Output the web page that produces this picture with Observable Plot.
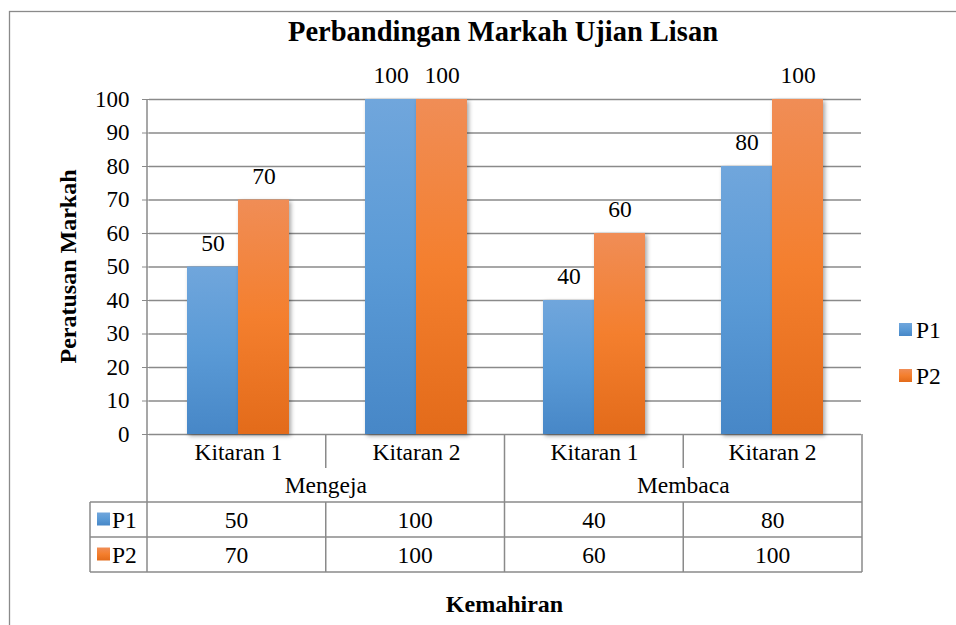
<!DOCTYPE html>
<html>
<head>
<meta charset="utf-8">
<script src="https://cdn.jsdelivr.net/npm/d3@7"></script>
<script src="https://cdn.jsdelivr.net/npm/@observablehq/plot@0.6"></script>
<style>
  html, body { margin: 0; padding: 0; background: #fff; }
  #wrap { position: relative; width: 956px; height: 625px; overflow: hidden; background: #fff; }
  #wrap svg.main { position: absolute; left: 0; top: 0; }
  #wrap svg text { font-family: "Liberation Serif", "Times New Roman", serif !important; }
  g[aria-label="bar"] rect { filter: drop-shadow(2px 2px 2px rgba(0,0,0,0.35)); }
  [aria-label^="y-axis"] line, [aria-label^="y-axis"] path { stroke: #8a8a8a; }
</style>
</head>
<body>
<svg width="0" height="0" style="position:absolute">
  <defs>
    <linearGradient id="gP1" x1="0" y1="0" x2="0" y2="1">
      <stop offset="0%" stop-color="#70a6dc"/>
      <stop offset="50%" stop-color="#5a9ad6"/>
      <stop offset="100%" stop-color="#4787c7"/>
    </linearGradient>
    <linearGradient id="gP2" x1="0" y1="0" x2="0" y2="1">
      <stop offset="0%" stop-color="#f08d56"/>
      <stop offset="50%" stop-color="#f47f2e"/>
      <stop offset="100%" stop-color="#e36b1a"/>
    </linearGradient>
  </defs>
</svg>
<div id="wrap"></div>
<script>
// ---- data ----
const title = "Perbandingan Markah Ujian Lisan";
const yTitle = "Peratusan Markah";
const xTitle = "Kemahiran";
const groups = ["Mengeja", "Membaca"];
const rounds = ["Kitaran 1", "Kitaran 2"];
const series = ["P1", "P2"];
const p1Values = [50, 100, 40, 80];
const p2Values = [70, 100, 60, 100];
const yTicks = [0, 10, 20, 30, 40, 50, 60, 70, 80, 90, 100];

// ---- derived table ----
const SEP = " · ";
const cats = groups.flatMap(g => rounds.map(r => g + SEP + r));
const valuesBySeries = {P1: p1Values, P2: p2Values};
const data = [];
cats.forEach((c, i) => {
  series.forEach(s => data.push({cat: c, series: s, value: valuesBySeries[s][i]}));
});

const FONT = '"Liberation Serif", "Times New Roman", serif';
const GRID = "#8a8a8a";
const W = 956, H = 625;
const FS = 23.5;

const chart = Plot.plot({
  width: W, height: H,
  marginLeft: 147, marginRight: 94, marginTop: 99, marginBottom: 191,
  style: {fontFamily: FONT, fontSize: "23px", color: "#000", background: "transparent", overflow: "visible"},
  facet: {data, x: "cat"},
  fx: {domain: cats, padding: 0, axis: "bottom", tickSize: 0, tickPadding: 9, label: null,
       tickFormat: d => d.split(SEP)[1]},
  x: {domain: series, paddingInner: 0, paddingOuter: 0.735, axis: null},
  y: {domain: [0, 100], ticks: yTicks, tickSize: 7, tickPadding: 13, label: null},
  color: {domain: series, range: ["url(#gP1)", "url(#gP2)"]},
  marks: [
    Plot.ruleY(yTicks, {stroke: GRID, strokeWidth: 1.3}),
    Plot.barY(data, {x: "series", y: "value", fill: "series"}),
    Plot.text(data, {x: "series", y: "value", text: d => String(d.value), dy: -24, fontSize: FS, fill: "#000"})
  ]
});
chart.classList.add("main");
document.getElementById("wrap").append(chart);
d3.select(chart).selectAll('[aria-label^="fx-axis"] text').attr("font-size", FS).style("font-size", FS + "px");

// ---- scales from the plot ----
const fxInfo = chart.scale("fx");
const band = d3.scaleBand(fxInfo.domain, fxInfo.range)
  .paddingInner(fxInfo.paddingInner ?? 0)
  .paddingOuter(fxInfo.paddingOuter ?? 0)
  .align(fxInfo.align ?? 0.5);
const yInfo = chart.scale("y");
const yS = d3.scaleLinear(yInfo.domain, yInfo.range);

const svg = d3.select(chart);
const xL = band.range()[0], xR = band.range()[1];
const y0 = yS(0);
const rowB = [y0 + 34, y0 + 68, y0 + 103, y0 + 138]; // bottoms: tick row, group row, P1 row, P2 row
const keyLeft = 90;

// outer chart border
svg.append("rect").attr("x", 9.5).attr("y", 11.5).attr("width", 1000).attr("height", 1000)
  .attr("fill", "none").attr("stroke", "#8a8a8a").attr("stroke-width", 1.3);

// title
svg.append("text").attr("x", 503).attr("y", 41).attr("text-anchor", "middle")
  .attr("font-family", FONT).attr("font-weight", "bold").attr("font-size", 28.5).text(title);

// y axis title
svg.append("text").attr("transform", `translate(76,${(yS(0) + yS(100)) / 2}) rotate(-90)`)
  .attr("text-anchor", "middle").attr("font-family", FONT).attr("font-weight", "bold")
  .attr("font-size", 24).text(yTitle);

// x axis title
svg.append("text").attr("x", (xL + xR) / 2).attr("y", 612).attr("text-anchor", "middle")
  .attr("font-family", FONT).attr("font-weight", "bold").attr("font-size", 24).text(xTitle);

// data table
const tbl = svg.append("g").attr("stroke", GRID).attr("stroke-width", 1.5).attr("fill", "none");
const line = (x1, y1, x2, y2) => tbl.append("line").attr("x1", x1).attr("y1", y1).attr("x2", x2).attr("y2", y2);
line(xL, yS(100), xL, rowB[3]);
cats.forEach((c, i) => {
  const right = band(c) + band.bandwidth();
  const groupEnd = (i % rounds.length) === rounds.length - 1;
  if (groupEnd) line(right, y0, right, rowB[3]);
  else { line(right, y0, right, rowB[0]); line(right, rowB[1], right, rowB[3]); }
});
line(keyLeft, rowB[1], xR, rowB[1]);
line(keyLeft, rowB[2], xR, rowB[2]);
line(keyLeft, rowB[3], xR, rowB[3]);
line(keyLeft, rowB[1], keyLeft, rowB[3]);

const txt = svg.append("g").attr("font-family", FONT).attr("font-size", FS).attr("fill", "#000").attr("text-anchor", "middle");
groups.forEach(g => {
  const first = g + SEP + rounds[0], last = g + SEP + rounds[rounds.length - 1];
  const cx = (band(first) + band(last) + band.bandwidth()) / 2;
  txt.append("text").attr("x", cx).attr("y", (rowB[0] + rowB[1]) / 2).attr("dy", "0.35em").text(g);
});
series.forEach((s, si) => {
  const yc = (rowB[1 + si] + rowB[2 + si]) / 2;
  cats.forEach((c, i) => {
    txt.append("text").attr("x", band(c) + band.bandwidth() / 2).attr("y", yc).attr("dy", "0.35em")
      .text(valuesBySeries[s][i]);
  });
  svg.append("rect").attr("x", 97).attr("y", yc - 7).attr("width", 13).attr("height", 13)
    .attr("fill", `url(#g${s})`);
  svg.append("text").attr("x", 112).attr("y", yc).attr("dy", "0.35em").attr("text-anchor", "start")
    .attr("font-family", FONT).attr("font-size", FS).text(s);
});

// right legend
series.forEach((s, si) => {
  const yc = 330 + si * 46;
  svg.append("rect").attr("x", 899).attr("y", yc - 7).attr("width", 13).attr("height", 13)
    .attr("fill", `url(#g${s})`);
  svg.append("text").attr("x", 916).attr("y", yc).attr("dy", "0.35em").attr("text-anchor", "start")
    .attr("font-family", FONT).attr("font-size", FS).text(s);
});
</script>
</body>
</html>
